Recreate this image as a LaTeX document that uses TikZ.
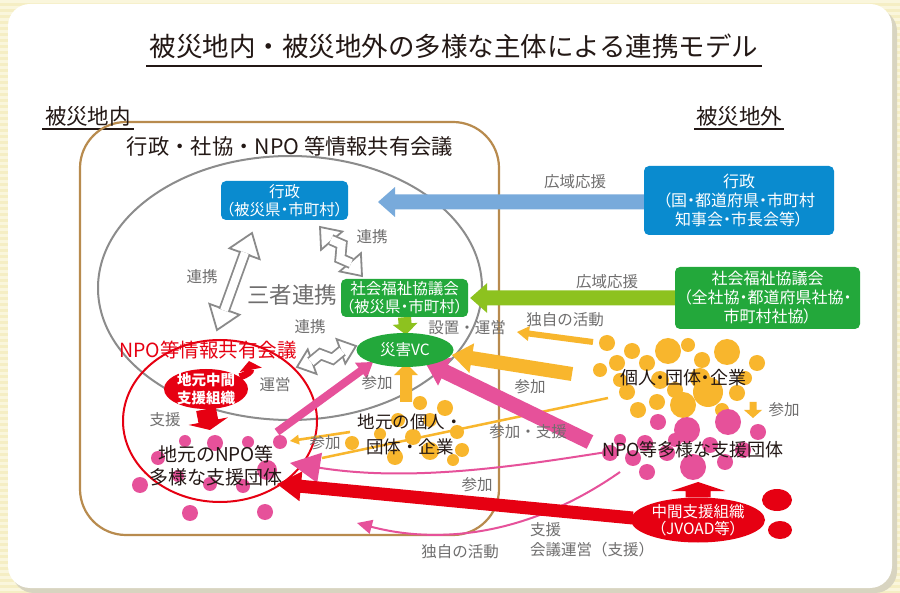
\documentclass[tikz,border=0pt]{standalone}
\usepackage{fontspec}
\setmainfont{Noto Sans CJK JP}
\newfontfamily\pfont{Noto Sans CJK JP}[RawFeature=+palt]
\usetikzlibrary{calc,arrows.meta,shapes.geometric}
\pgfdeclarelayer{back}
\pgfdeclarelayer{mid}
\pgfsetlayers{back,mid,main}
\newcommand\fsz[2]{\fontsize{#1}{#2}\selectfont}
\definecolor{txt}{HTML}{231815}
\definecolor{lbl}{HTML}{6F6E6E}
\definecolor{bluebox}{HTML}{0A8BCF}
\definecolor{bluearr}{HTML}{78AADB}
\definecolor{greenbox}{HTML}{23A83B}
\definecolor{ygreen}{HTML}{8DC21F}
\definecolor{orng}{HTML}{F8B62D}
\definecolor{pnk}{HTML}{E6519A}
\definecolor{rd}{HTML}{E60012}
\definecolor{brwn}{HTML}{B88B4E}
\definecolor{ellgray}{HTML}{8C8C8C}
\definecolor{arrgray}{HTML}{8A8A8A}
\definecolor{bgy}{HTML}{F5EEC4}
\definecolor{bgy2}{HTML}{FAF6DC}
\definecolor{shadowc}{HTML}{D8D4C0}
% block arrow: style, start, end, shaft half width, head half width, head length
\newcommand\barrow[6]{%
 \coordinate (ba-s) at (#2);
 \coordinate (ba-e) at (#3);
 \coordinate (ba-b) at ($(ba-e)!#6!(ba-s)$);
 \fill[#1] ($(ba-s)!#4!90:(ba-e)$) -- ($(ba-b)!#4!-90:(ba-s)$) -- ($(ba-b)!#5!-90:(ba-s)$) -- (ba-e) -- ($(ba-b)!#5!90:(ba-s)$) -- ($(ba-b)!#4!90:(ba-s)$) -- ($(ba-s)!#4!-90:(ba-e)$) -- cycle;}
% hollow double arrow: tip1, tip2, jog, head length, head half width
\newcommand\hdarrow[5]{%
 \coordinate (hd-a) at (#1);
 \coordinate (hd-b) at (#2);
 \coordinate (hd-a1) at ($(hd-a)!#4!(hd-b)$);
 \coordinate (hd-b1) at ($(hd-b)!#4!(hd-a)$);
 \coordinate (hd-m) at ($(hd-a)!0.5!(hd-b)$);
 \coordinate (hd-p) at ($(hd-m)!#3!90:(hd-b)$);
 \coordinate (hd-q) at ($(hd-m)!#3!-90:(hd-b)$);
 \coordinate (hd-p1) at ($(hd-p)!5pt!(hd-a)$);
 \coordinate (hd-q1) at ($(hd-q)!5pt!(hd-b)$);
 \filldraw[hdhead] (hd-a) -- ($(hd-a1)!#5!90:(hd-b)$) -- ($(hd-a1)!#5!-90:(hd-b)$) -- cycle;
 \filldraw[hdhead] (hd-b) -- ($(hd-b1)!#5!90:(hd-a)$) -- ($(hd-b1)!#5!-90:(hd-a)$) -- cycle;
 \draw[hdshaft] ($(hd-a1)!1.2pt!(hd-a)$) -- (hd-p1) -- (hd-q1) -- ($(hd-b1)!1.2pt!(hd-b)$);}
\begin{document}
\begin{tikzpicture}[x=1pt,y=-1pt,
 lab/.style={text=lbl, font=\fsz{15.5}{18}, inner sep=0pt},
 blk/.style={text=txt, inner sep=0pt, align=center},
 box/.style={rounded corners=5pt, text=white, align=center, inner sep=0pt, font=\pfont\fsz{15.5}{18}},
 wtxt/.style={text=white, align=center, inner sep=0pt},
 hdhead/.style={draw=arrgray, fill=white, line width=1.8pt, line join=miter},
 hdshaft/.style={draw=arrgray, double=white, double distance=8pt, line width=1.8pt, line join=miter}]
\useasboundingbox (0,0) rectangle (900,593);

% ---------- nodes (main layer)
\node[font=\fsz{26.5}{30}, text=txt] (title) at (454,46) {被災地内・被災地外の多様な主体による連携モデル};
\node[font=\fsz{21.5}{24}, text=txt] (inside) at (88,116) {被災地内};
\node[font=\fsz{21.5}{24}, text=txt] (outside) at (739,116) {被災地外};
\node[font=\fsz{21.3}{24}, text=txt] (meeting) at (290,146) {行政・社協・NPO 等情報共有会議};

\node[box, fill=bluebox, minimum width=127pt, minimum height=39pt] (gyosei) at (284.5,200.5) {行政\\（被災県・市町村）};
\node[box, fill=bluebox, minimum width=190pt, minimum height=69pt, font=\pfont\fsz{16}{19}] (gyoseiR) at (739,200.5) {行政\\（国・都道府県・市町村\\知事会・市長会等）};
\node[box, fill=greenbox, minimum width=127pt, minimum height=38pt] (shakyo) at (404.5,298) {社会福祉協議会\\（被災県・市町村）};
\node[box, fill=greenbox, minimum width=185pt, minimum height=62pt, font=\pfont\fsz{16}{19}] (shakyoR) at (767.5,298) {社会福祉協議会\\（全社協・都道府県社協・\\市町村社協）};

\node[ellipse, fill=greenbox, minimum width=97pt, minimum height=34pt, inner sep=0pt] (vc) at (405,350) {};
\node[wtxt, font=\pfont\fsz{15.5}{18}] (vctext) at (vc) {災害VC};
\node[ellipse, fill=rd, minimum width=84pt, minimum height=40pt, inner sep=0pt] (jimoto) at (206,389) {};
\node[wtxt, font=\bfseries\fsz{14.5}{18}] (jimototext) at (jimoto) {地元中間\\支援組織};
\node[ellipse, fill=rd, minimum width=134pt, minimum height=45pt, inner sep=0pt] (jvoad) at (698,520) {};
\node[wtxt, font=\pfont\fsz{15.5}{17}] (jvoadtext) at (jvoad) {中間支援組織\\（JVOAD等）};
\node[ellipse, fill=rd, minimum width=30pt, minimum height=22pt, inner sep=0pt] (rdot1) at (777,500) {};
\node[ellipse, fill=rd, minimum width=24pt, minimum height=18pt, inner sep=0pt] (rdot2) at (780,530) {};

\node[font=\fsz{22.5}{26}, text=lbl] (sansha) at (292,295) {三者連携};
\node[font=\fsz{19.5}{22}, text=rd, inner sep=0pt] (npomtg) at (208,350) {NPO等情報共有会議};
\node[blk, font=\fsz{19}{23}] (localnpo) at (216,466) {地元のNPO等\\多様な支援団体};
\node[blk, font=\fsz{17.5}{25}] (localind) at (410,434) {地元の個人・\\団体・企業};
\node[blk, font=\pfont\fsz{18}{20}] (ind) at (683,378) {個人・団体・企業};
\node[blk, font=\fsz{18}{20}] (npo) at (693,450) {NPO等多様な支援団体};

\node[lab] (l1) at (575,182) {広域応援};
\node[lab] (l2) at (607,282) {広域応援};
\node[lab] (l3) at (202,277) {連携};
\node[lab] (l4) at (372,237) {連携};
\node[lab] (l5) at (310,327) {連携};
\node[lab] (l6) at (467,328) {設置・運営};
\node[lab] (l7) at (565,320) {独自の活動};
\node[lab] (l8) at (275,385) {運営};
\node[lab] (l9) at (165,420) {支援};
\node[lab] (l10) at (377,383) {参加};
\node[lab] (l11) at (530,387) {参加};
\node[lab] (l12) at (325,443) {参加};
\node[lab] (l13) at (528,432) {参加・支援};
\node[lab] (l14) at (477,485) {参加};
\node[lab] (l15) at (784,410) {参加};
\node[lab] (l16) at (460,552) {独自の活動};
\node[lab, anchor=west] (l17) at (530,530) {支援};
\node[lab, anchor=west] (l18) at (530,550) {会議運営（支援）};

% free arrow ends
\coordinate (bt) at (378,202);
\coordinate (og1) at (406,402);
\coordinate (pk1s) at (277,432);
\coordinate (pk1e) at (373,362);
\coordinate (ob1s) at (572,374);
\coordinate (ob1e) at (452,355);
\coordinate (pb1s) at (590,442);
\coordinate (pb1e) at (425,362);
\coordinate (rb1e) at (277,484);
\coordinate (ot1s) at (593,342);
\coordinate (ot1e) at (517,332);
\coordinate (oa1s) at (350,432);
\coordinate (oa1e) at (290,441);
\coordinate (rdn) at (210,430);
\coordinate (rup) at (698,482);
\coordinate (osd1) at (753,402);
\coordinate (osd2) at (753,418);
\coordinate (ol1) at (608,398);
\coordinate (ol2) at (322,458);
\coordinate (pc1s) at (620,450);
\coordinate (pc1e) at (290,463);
\coordinate (pc2s) at (620,472);
\coordinate (pc2e) at (357,523);
\coordinate (unei) at (249,361);

% ---------- background layer
\begin{pgfonlayer}{back}
\fill[bgy] (0,0) rectangle (900,593);
\foreach \i in {0,...,98} \fill[bgy2] (0,\i*6) rectangle (900,\i*6+3);
\fill[shadowc, rounded corners=22pt] (12,9) rectangle (897,593);
\fill[white, rounded corners=22pt] (8,4) rectangle (892,588);
\draw[txt, line width=2pt] (146,66) -- (762,66);
\draw[txt, line width=1.3pt] (42,129) -- (134,129);
\draw[txt, line width=1.3pt] (694,129) -- (784,129);
\draw[brwn, line width=2.2pt, rounded corners=46pt] (80,122) rectangle (499,535);
\draw[ellgray, line width=2pt] (290,288) ellipse [x radius=192pt, y radius=132pt];
\draw[rd, line width=2pt] (220,421) ellipse [x radius=97pt, y radius=81pt];
% dots
\foreach \x/\y/\r in {185/441/6,215/443/8,248/442/6,280/442/7,140/485/8,190/513/8,265/512/8,158/458/7,267/470/10,243/486/7,210/484/7,178/476/6}
  \fill[pnk] (\x,\y) circle[radius=\r pt];
\foreach \x/\y/\r in {420/403/7,445/408/8,398/420/7,457/432/7,462/450/7,352/443/7,395/457/8,430/451/9,380/434/6,413/437/8,453/460/6,430/420/7}
  \fill[orng] (\x,\y) circle[radius=\r pt];
\foreach \x/\y/\r in {607/343/8,632/351/8,668/351/13,702/360/8,727/352/13,757/363/8,617/363/8,647/363/8,627/392/8,657/402/8,683/405/13,708/392/15,737/393/8,638/410/8,660/380/9,700/378/10,620/380/7,600/370/7,745/378/7,675/390/8,722/410/7,688/345/7}
  \fill[orng] (\x,\y) circle[radius=\r pt];
\foreach \x/\y/\r in {658/422/8,687/430/13,728/422/13,758/432/8,633/458/8,647/472/8,667/453/8,693/467/13,725/462/8,743/450/8,645/443/8,610/453/8,710/445/8,675/440/7,620/440/6}
  \fill[pnk] (\x,\y) circle[radius=\r pt];
\end{pgfonlayer}

% ---------- connectors layer
\begin{pgfonlayer}{mid}
\hdarrow{252,233}{217,330}{0pt}{22pt}{16pt}
\hdarrow{320,227}{362,276}{6pt}{18pt}{14pt}
\hdarrow{297,367}{356,346}{5pt}{16pt}{13pt}

\barrow{bluearr}{gyoseiR.west |- bt}{bt}{7.5pt}{15pt}{17pt}
\barrow{ygreen}{shakyoR.west}{$(shakyo.east)+(2,0)$}{7.5pt}{15pt}{17pt}
\barrow{ygreen}{shakyo.south}{$(vc.north)+(1,2)$}{6.5pt}{12.5pt}{11pt}
\barrow{orng}{og1}{$(vc.south)+(1,-4)$}{6pt}{12pt}{12pt}
\draw[orng, line width=2.5pt] (ol1) -- (ol2);
\barrow{orng}{ot1s}{ot1e}{3pt}{7.5pt}{12pt}
\barrow{orng}{oa1s}{oa1e}{1.3pt}{5pt}{9pt}
\barrow{orng}{ob1s}{ob1e}{7pt}{15pt}{20pt}
\barrow{orng}{osd1}{osd2}{3.5pt}{9pt}{8pt}
\barrow{pnk}{pk1s}{pk1e}{4pt}{10pt}{15pt}
\barrow{pnk}{pb1s}{pb1e}{7.5pt}{15.5pt}{22pt}
\draw[pnk, line width=2pt, -{Triangle[length=30pt,width=30pt]}] (pc1s) .. controls (540,462) and (420,484) .. (pc1e);
\draw[pnk, line width=2pt, -{Triangle[length=15pt,width=14pt]}] (pc2s) .. controls (530,535) and (440,545) .. (pc2e);
\barrow{rd}{$(jvoad.west)+(2,-2)$}{rb1e}{6.5pt}{15pt}{24pt}
\barrow{rd}{jimoto.south}{rdn}{10pt}{20pt}{9pt}
\barrow{rd}{jvoad.north}{rup}{12.5pt}{27pt}{9pt}
\draw[rd, line width=7pt, -{Triangle[length=9pt,width=22pt]}] (jimoto.20) .. controls +(8,-2) and +(2,10) .. (unei);
\end{pgfonlayer}
\end{tikzpicture}
\end{document}
